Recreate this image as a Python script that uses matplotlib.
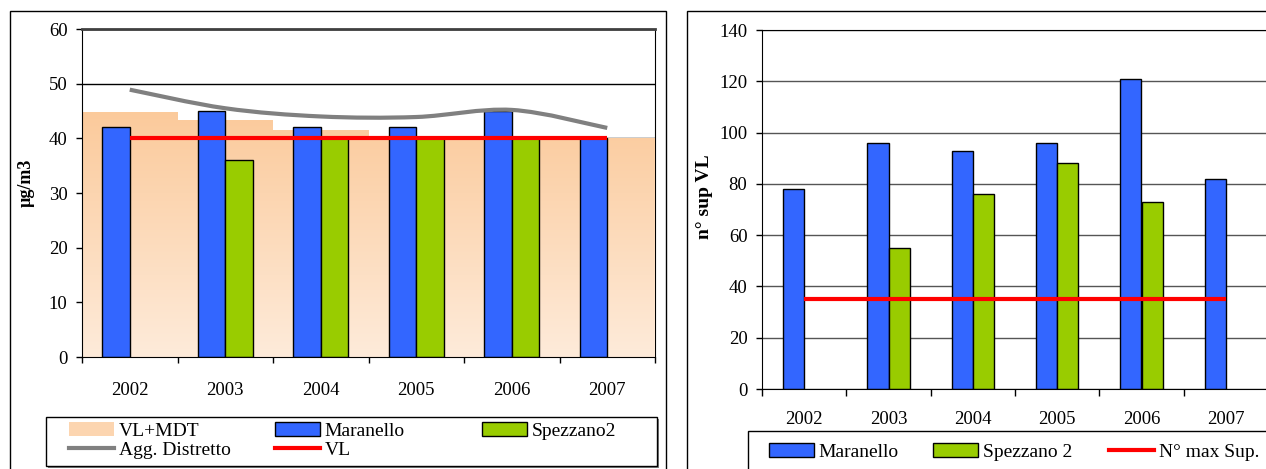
import numpy as np
import matplotlib
matplotlib.use('Agg')
import matplotlib.pyplot as plt
from matplotlib.patches import Rectangle, Patch, PathPatch
from matplotlib.lines import Line2D
from matplotlib.path import Path
from matplotlib.colors import LinearSegmentedColormap

plt.rcParams['font.family'] = ['Liberation Serif', 'DejaVu Serif']

years = ['2002', '2003', '2004', '2005', '2006', '2007']

# grafico a sinistra: media annua (µg/m3)
vl_mdt = [44.8, 43.3, 41.5, 40, 40, 40]
maranello_conc = [42, 45, 42, 42, 45, 40]
spezzano_conc = [np.nan, 36, 40, 40, 40, np.nan]
agg_distretto = [48.9, 45.5, 44.0, 43.9, 45.2, 41.9]
vl = [40, 40, 40, 40, 40, 40]

# grafico a destra: numero superamenti
maranello_sup = [78, 96, 93, 96, 121, 82]
spezzano_sup = [np.nan, 55, 76, 88, 73, np.nan]
max_sup = [35, 35, 35, 35, 35, 35]

BLUE = '#3366FF'
GREEN = '#99CC00'
W, H = 1266, 469


def smooth_path(xs, ys):
    # curva smussata tipo Excel (Catmull-Rom -> Bezier)
    pts = np.column_stack([xs, ys])
    n = len(pts)
    verts = [pts[0]]
    codes = [Path.MOVETO]
    for i in range(n - 1):
        p0 = pts[i - 1] if i > 0 else pts[i]
        p1, p2 = pts[i], pts[i + 1]
        p3 = pts[i + 2] if i + 2 < n else pts[i + 1]
        verts += [p1 + (p2 - p0) / 6, p2 - (p3 - p1) / 6, p2]
        codes += [Path.CURVE4] * 3
    return Path(verts, codes)


def legend_col(fig, handles, labels, px, py):
    # una colonna di legenda, angolo in alto a sinistra in pixel
    return fig.legend(handles, labels, loc='upper left', bbox_to_anchor=(px / W, 1 - py / H),
                      fontsize=14, frameon=False, handlelength=2.3, handletextpad=0.25,
                      labelspacing=0.1, borderpad=0, borderaxespad=0)


def box(fig, x0, y0, x1, y1, shadow=True):
    if shadow:
        fig.add_artist(Rectangle((x0 / W + 2 / W, 1 - y1 / H - 2 / H), (x1 - x0) / W, (y1 - y0) / H,
                                 transform=fig.transFigure, facecolor='#808080', edgecolor='none', zorder=1))
    fig.add_artist(Rectangle((x0 / W, 1 - y1 / H), (x1 - x0) / W, (y1 - y0) / H,
                             transform=fig.transFigure, facecolor='white', edgecolor='black', lw=1, zorder=1.1))


fig = plt.figure(figsize=(W / 100, H / 100), dpi=100)
x = np.arange(len(years)) + 0.5

# ---------------- sinistra ----------------
ax1 = fig.add_axes([82 / W, 1 - 357 / H, (655 - 82) / W, (357 - 29) / H])
area = ax1.bar(x, vl_mdt, width=1.0, color='none', lw=0, zorder=1)
clip = Path.make_compound_path(*[b.get_path().transformed(b.get_patch_transform()) for b in area])
clip_patch = PathPatch(clip, transform=ax1.transData, facecolor='none', edgecolor='none')
ax1.add_patch(clip_patch)
cmap = LinearSegmentedColormap.from_list('mdt', ['#FEEBDA', '#FBCA9B'])
grad = np.linspace(0, 1, 256).reshape(-1, 1)
img = ax1.imshow(grad, extent=[0, 6, 0, 45], aspect='auto', cmap=cmap, origin='lower', zorder=1)
img.set_clip_path(clip_patch)

w1 = 0.29
ax1.bar(x - w1 / 2, maranello_conc, w1, color=BLUE, edgecolor='black', lw=1, zorder=2)
ax1.bar(x + w1 / 2, spezzano_conc, w1, color=GREEN, edgecolor='black', lw=1, zorder=2)
ax1.plot(x, vl, color='red', lw=3, zorder=4, solid_capstyle='butt')
ax1.add_patch(PathPatch(smooth_path(x, agg_distretto), facecolor='none', edgecolor='#808080',
                        lw=3, zorder=4, capstyle='butt'))

ax1.set_xlim(0, 6)
ax1.set_ylim(0, 60)
ax1.set_yticks(range(0, 61, 10))
ax1.yaxis.grid(True, color='black', lw=1)
ax1.set_axisbelow(True)
ax1.spines['top'].set_color('#404040')
ax1.spines['top'].set_linewidth(2)
ax1.spines['right'].set_zorder(0.6)
ax1.set_xticks(np.arange(7))
ax1.set_xticks(x, minor=True)
ax1.set_xticklabels(years, minor=True)
ax1.tick_params(axis='x', which='major', length=4.5, width=1, labelbottom=False)
ax1.tick_params(axis='x', which='minor', length=0, pad=18, labelsize=13.5)
ax1.tick_params(axis='y', length=4.5, width=1, pad=6, labelsize=13.5)
ax1.set_ylabel('µg/m3', fontweight='bold', fontsize=13)
ax1.yaxis.set_label_coords(-0.083, 0.53)

# legenda sinistra
box(fig, 46, 417, 657, 466)
mdt_handle = Patch(facecolor='#FCD5B0', edgecolor='none')
gray_handle = Line2D([], [], color='#808080', lw=3)
blue_handle = Patch(facecolor=BLUE, edgecolor='black')
red_handle = Line2D([], [], color='red', lw=3)
green_handle = Patch(facecolor=GREEN, edgecolor='black')
legend_col(fig, [mdt_handle, gray_handle], ['VL+MDT', 'Agg. Distretto'], 69, 422)
legend_col(fig, [blue_handle, red_handle], ['Maranello', 'VL'], 275, 422)
legend_col(fig, [green_handle], ['Spezzano2'], 482, 422)

# ---------------- destra ----------------
ax2 = fig.add_axes([762 / W, 1 - 389 / H, (1268 - 762) / W, (389 - 30) / H])
w2 = 0.25
ax2.bar(x - w2 / 2, maranello_sup, w2, color=BLUE, edgecolor='black', lw=1, zorder=2)
ax2.bar(x + w2 / 2, spezzano_sup, w2, color=GREEN, edgecolor='black', lw=1, zorder=2)
ax2.plot(x, max_sup, color='red', lw=3, zorder=4, solid_capstyle='butt')

ax2.set_xlim(0, 6)
ax2.set_ylim(0, 140)
ax2.set_yticks(range(0, 141, 20))
ax2.yaxis.grid(True, color='#555555', lw=1)
ax2.set_axisbelow(True)
ax2.spines['right'].set_visible(False)
ax2.set_xticks(np.arange(7))
ax2.set_xticks(x, minor=True)
ax2.set_xticklabels(years, minor=True)
ax2.tick_params(axis='x', which='major', length=5, width=1, labelbottom=False)
ax2.tick_params(axis='x', which='minor', length=0, pad=16, labelsize=13.5)
ax2.tick_params(axis='y', length=4.5, width=1, pad=6, labelsize=13.5)
ax2.set_ylabel('n° sup VL', fontweight='bold', fontsize=14)
ax2.yaxis.set_label_coords(-0.096, 0.535)

# legenda destra
box(fig, 748, 431, 1300, 500, shadow=False)
legend_col(fig, [blue_handle], ['Maranello'], 769, 443)
legend_col(fig, [green_handle], ['Spezzano 2'], 933, 443)
legend_col(fig, [red_handle], ['N° max Sup.'], 1109, 443)

# cornici esterne
fig.add_artist(Rectangle((10 / W, -0.05), (666 - 10) / W, (469 - 11) / H + 0.05,
                         transform=fig.transFigure, fill=False, edgecolor='black', lw=1))
fig.add_artist(Rectangle((687 / W, -0.05), 0.5, (469 - 11) / H + 0.05,
                         transform=fig.transFigure, fill=False, edgecolor='black', lw=1))

fig.savefig('out.png', dpi=100)
